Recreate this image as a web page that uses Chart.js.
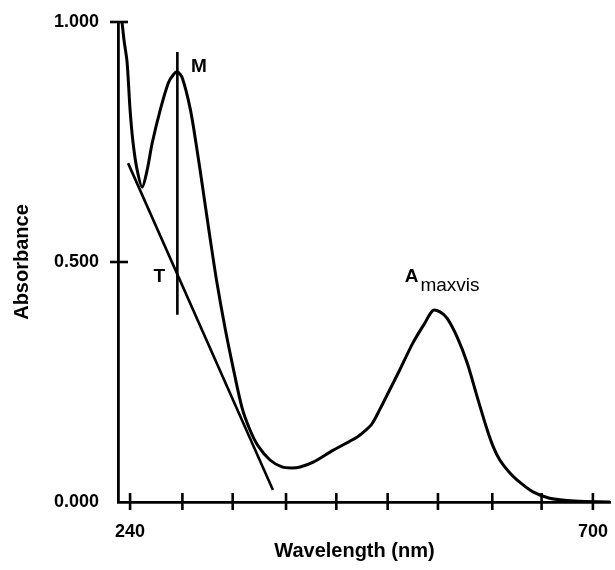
<!DOCTYPE html>
<html lang="en">
<head>
<meta charset="utf-8">
<script src="https://cdn.jsdelivr.net/npm/chart.js@4.4.1/dist/chart.umd.min.js"></script>
<style>
  body { margin: 0; background: #fff; }
  #wrap { width: 615px; height: 570px; }
</style>
</head>
<body>
<div id="wrap"><canvas id="spectrum" width="615" height="570"></canvas></div>
<script>
  // absorption spectrum
  const wavelength = [232, 234, 237, 240, 243, 247, 252, 257, 262, 270, 278, 283, 287, 292, 300, 306.6, 312.5, 319.5, 326.4, 334.4, 342.3, 351.3, 359.2, 367.2, 379.1, 391, 401, 409, 422, 442, 465.5, 473.5, 480.5, 488.5, 496.5, 508, 521, 533, 541, 548, 555, 565, 575, 585, 595, 601, 607.5, 616, 624.5, 640.5, 657, 682, 717];
  const absorbance = [1.000, 0.962, 0.917, 0.817, 0.748, 0.692, 0.656, 0.692, 0.748, 0.817, 0.873, 0.890, 0.896, 0.883, 0.817, 0.733, 0.650, 0.550, 0.456, 0.3625, 0.281, 0.196, 0.150, 0.117, 0.0875, 0.073, 0.071, 0.073, 0.083, 0.108, 0.135, 0.148, 0.163, 0.194, 0.227, 0.275, 0.331, 0.373, 0.399, 0.396, 0.383, 0.344, 0.290, 0.219, 0.150, 0.115, 0.0875, 0.064, 0.046, 0.021, 0.008, 0.002, 0.000];

  // baseline tangent and the vertical line through the peak M
  const tangentNm = [238, 382];
  const tangentAbs = [0.706, 0.025];
  const markerNm = [287, 287];
  const markerAbs = [0.9375, 0.390];

  const xTickValues = [240, 292, 342, 395, 445, 496, 546, 600, 649, 700];
  const xTickLabels = ['240', '', '', '', '', '', '', '', '', '700'];
  const yTickValues = [0, 0.5, 1];
  const yTickLabels = ['0.000', '0.500', '1.000'];

  const toPoints = (xs, ys) => xs.map((x, i) => ({ x: x, y: ys[i] }));

  const FONT = '"Liberation Sans", Arial, sans-serif';

  // tick marks that cross the axis lines, plus the M / T / Amaxvis notes
  const decorations = {
    id: 'decorations',
    afterDraw(chart) {
      const { ctx, scales: { x, y } } = chart;
      ctx.save();
      ctx.strokeStyle = '#000';
      ctx.lineWidth = 2.6;
      x.ticks.forEach(t => {
        const px = x.getPixelForValue(t.value);
        ctx.beginPath();
        ctx.moveTo(px, y.bottom - 9);
        ctx.lineTo(px, y.bottom + 8);
        ctx.stroke();
      });
      y.ticks.forEach(t => {
        if (t.value <= 0) return;
        const py = y.getPixelForValue(t.value);
        ctx.beginPath();
        ctx.moveTo(x.left - 8, py);
        ctx.lineTo(x.left + 10, py);
        ctx.stroke();
      });

      ctx.fillStyle = '#000';
      ctx.font = 'bold 19px ' + FONT;
      ctx.textAlign = 'center';
      ctx.textBaseline = 'middle';
      ctx.fillText('M', x.getPixelForValue(308.5), y.getPixelForValue(0.906));
      ctx.fillText('T', x.getPixelForValue(269), y.getPixelForValue(0.469));

      ctx.textAlign = 'left';
      ctx.textBaseline = 'alphabetic';
      const ax = x.getPixelForValue(513);
      ctx.fillText('A', ax, y.getPixelForValue(0.458));
      const aw = ctx.measureText('A').width;
      ctx.font = '19px ' + FONT;
      ctx.fillText('maxvis', ax + aw + 2, y.getPixelForValue(0.44));

      ctx.font = 'bold 20px ' + FONT;
      ctx.textAlign = 'center';
      ctx.textBaseline = 'middle';
      ctx.fillText('Wavelength (nm)', x.getPixelForValue(463), 551);
      ctx.restore();
    }
  };

  new Chart(document.getElementById('spectrum'), {
    type: 'scatter',
    data: {
      datasets: [{
        data: toPoints(wavelength, absorbance),
        showLine: true,
        borderColor: '#000',
        borderWidth: 3,
        pointRadius: 0,
        tension: 0.3
      }, {
        data: toPoints(tangentNm, tangentAbs),
        showLine: true,
        borderColor: '#000',
        borderWidth: 2.6,
        pointRadius: 0
      }, {
        data: toPoints(markerNm, markerAbs),
        showLine: true,
        borderColor: '#000',
        borderWidth: 2.6,
        pointRadius: 0
      }]
    },
    options: {
      responsive: false,
      animation: false,
      layout: { padding: { top: 22, right: 5, left: 0, bottom: 0 } },
      plugins: {
        legend: { display: false },
        tooltip: { enabled: false }
      },
      scales: {
        x: {
          type: 'linear',
          min: 228,
          max: 717,
          grid: { display: false, drawTicks: false },
          border: { display: true, color: '#000', width: 2.8 },
          afterBuildTicks: s => { s.ticks = xTickValues.map(v => ({ value: v })); },
          afterFit: s => { s.height = 68; s.paddingLeft = 0; s.paddingRight = 0; },
          ticks: {
            autoSkip: false,
            maxRotation: 0,
            padding: 19,
            color: '#000',
            font: { family: FONT, size: 18, weight: 'bold' },
            callback: (v, i) => xTickLabels[i]
          }
        },
        y: {
          min: 0,
          max: 1,
          grid: { display: false, drawTicks: false },
          border: { display: true, color: '#000', width: 2.8 },
          afterBuildTicks: s => { s.ticks = yTickValues.map(v => ({ value: v })); },
          afterFit: s => { s.width = 118; s.paddingTop = 0; s.paddingBottom = 0; },
          ticks: {
            padding: 19,
            color: '#000',
            font: { family: FONT, size: 18, weight: 'bold' },
            callback: (v, i) => yTickLabels[i]
          },
          title: {
            display: true,
            text: 'Absorbance',
            color: '#000',
            padding: { top: 10, bottom: 0 },
            font: { family: FONT, size: 20, weight: 'bold' }
          }
        }
      }
    },
    plugins: [decorations]
  });
</script>
</body>
</html>
